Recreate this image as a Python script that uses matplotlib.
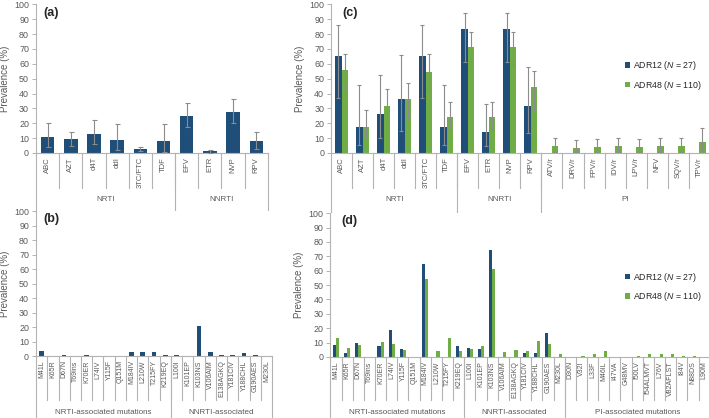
import matplotlib
matplotlib.use("Agg")
import matplotlib.pyplot as plt
import numpy as np

plt.rcParams['font.family'] = ['Liberation Sans', 'DejaVu Sans']
plt.rcParams['mathtext.fontset'] = 'custom'
plt.rcParams['mathtext.it'] = 'Liberation Sans:italic'
plt.rcParams['mathtext.rm'] = 'Liberation Sans'

# ---------- data ----------
drugs_a = ['ABC', 'AZT', 'd4T', 'ddI', '3TC/FTC', 'TDF', 'EFV', 'ETR', 'NVP', 'RPV']
groups_a = [('NRTI', 6), ('NNRTI', 4)]
vals_a = [10.5, 9.2, 12.5, 8.7, 3.0, 8.3, 25.0, 1.2, 27.3, 8.3]
lo_a = [4.3, 4.7, 6.0, 2.0, 1.6, 1.0, 17.7, 0.2, 20.0, 2.7]
hi_a = [20.4, 14.3, 22.2, 19.5, 4.3, 19.3, 33.9, 2.2, 36.1, 13.9]

drugs_c = ['ABC', 'AZT', 'd4T', 'ddI', '3TC/FTC', 'TDF', 'EFV', 'ETR', 'NVP', 'RPV',
           'ATV/r', 'DRV/r', 'FPV/r', 'IDV/r', 'LPV/r', 'NFV', 'SQV/r', 'TPV/r']
groups_c = [('NRTI', 6), ('NNRTI', 4), ('PI', 8)]
adr12_c = [65.2, 17.7, 26.2, 36.1, 65.2, 17.7, 83.4, 14.3, 83.4, 31.4, 0, 0, 0, 0, 0, 0, 0, 0]
adr12_c_lo = [37.2, 5.4, 10.3, 14.8, 37.2, 5.4, 61.2, 4.9, 61.2, 13.7]
adr12_c_hi = [86.1, 45.5, 52.7, 66.1, 86.1, 45.7, 94.4, 33.2, 94.4, 57.6]
adr48_c = [55.8, 17.7, 31.6, 36.1, 54.7, 24.4, 71.5, 24.4, 71.5, 44.2,
           4.9, 3.4, 4.0, 4.9, 4.0, 4.9, 4.9, 7.4]
adr48_c_lo = [43.9, 11.4, 23.1, 23.3, 43.0, 16.4, 59.2, 16.1, 59.2, 28.7,
              1.0, 0.5, 0.8, 1.0, 0.8, 1.0, 1.0, 2.0]
adr48_c_hi = [66.4, 28.7, 42.8, 46.9, 66.4, 34.5, 81.2, 34.5, 81.2, 55.2,
              10.0, 8.5, 9.2, 10.0, 9.2, 10.0, 10.0, 16.8]

nrti_mut = ['M41L', 'K65R', 'D67N', 'T69ins', 'K70ER', 'L74IV', 'Y115F', 'Q151M',
            'M184IV', 'L210W', 'T215FY', 'K219EQ']
nnrti_mut = ['L100I', 'K101EP', 'K103NS', 'V106AIM', 'E138AGKQ', 'Y181CIV',
             'Y188CHL', 'G190AES', 'M230L']
pi_mut = ['D30N', 'V32I', 'L33F', 'M46IL', 'I47VA', 'G48MV', 'I50LV', 'I54ALMVT',
          'L76V', 'V82AFLST', 'I84V', 'N88DS', 'L90M']

muts_b = nrti_mut + nnrti_mut
groups_b = [('NRTI-associated mutations', 12), ('NNRTI-associated', 9)]
vals_b = [3.7, 0, 0.5, 0, 0.8, 0, 0, 0, 2.8, 2.8, 2.8, 0.5,
          0.8, 0, 20.7, 2.8, 0.6, 0.5, 2.1, 0.8, 0]

muts_d = nrti_mut + nnrti_mut + pi_mut
groups_d = [('NRTI-associated mutations', 12), ('NNRTI-associated', 9), ('PI-associated mutations', 13)]
adr12_d = [8.6, 3.0, 10.0, 0, 7.5, 18.6, 5.6, 0, 65.0, 0, 0, 7.5,
           6.5, 5.6, 74.1, 0, 0, 3.0, 3.0, 17.0, 0,
           0, 0, 0, 0, 0, 0, 0, 0, 0, 0, 0, 0, 0]
adr48_d = [13.1, 6.3, 8.4, 0, 10.5, 8.9, 4.7, 0, 54.5, 4.0, 13.3, 4.2,
           5.8, 7.7, 61.5, 3.5, 4.9, 4.2, 11.0, 8.9, 1.9,
           0, 1.0, 1.9, 4.2, 0, 0, 0.9, 2.0, 2.0, 2.0, 1.0, 1.0, 0]

BLUE = '#1f4e79'
GREEN = '#70ad47'
GREY = '#595959'
LINE = '#b3b3b3'
ERR = '#8c8c8c'


# ---------- helpers ----------
def style_axis(ax, labels, groups, cat_sep, grp_sep, grp_y, label_size, tag):
    n = len(labels)
    ax.set_xlim(-0.5, n - 0.5)
    ax.set_ylim(0, 100)
    ax.set_yticks(range(0, 101, 10))
    ax.tick_params(axis='y', labelsize=6.4, colors=LINE, length=3, width=0.7, pad=2,
                   labelcolor=GREY)
    ax.set_xticks(range(n))
    ax.set_xticklabels(labels, rotation=90, fontsize=label_size, color=GREY)
    ax.tick_params(axis='x', length=0, pad=3)
    for s in ['top', 'right']:
        ax.spines[s].set_visible(False)
    ax.spines['left'].set_color(LINE)
    ax.spines['bottom'].set_color(LINE)
    ax.spines['left'].set_linewidth(0.8)
    ax.spines['bottom'].set_linewidth(0.8)
    ax.set_ylabel('Prevalence (%)', fontsize=7, color=GREY, labelpad=3)

    tr = ax.get_xaxis_transform()
    for i in range(1, n):
        ax.plot([i - 0.5, i - 0.5], [0, cat_sep], color=LINE, lw=0.8,
                transform=tr, clip_on=False)
    start = 0
    ax.plot([-0.5, -0.5], [0, grp_sep], color=LINE, lw=0.8, transform=tr, clip_on=False)
    for name, count in groups:
        end = start + count
        ax.plot([end - 0.5, end - 0.5], [0, grp_sep], color=LINE, lw=0.8,
                transform=tr, clip_on=False)
        ax.text((start + end - 1) / 2, grp_y, name, transform=tr, ha='center',
                va='center', fontsize=5.8, color=GREY)
        start = end
    ax.text(0.03, 0.985, tag, transform=ax.transAxes, fontsize=9, fontweight='bold',
            va='top', ha='left', color='#262626')


fig = plt.figure(figsize=(7.09, 4.18), dpi=100)

ax_a = fig.add_axes([0.0508, 0.634, 0.327, 0.3557])
ax_c = fig.add_axes([0.467, 0.634, 0.534, 0.3557])
ax_b = fig.add_axes([0.0508, 0.148, 0.333, 0.347])
ax_d = fig.add_axes([0.466, 0.146, 0.535, 0.344])

# (a)
x = np.arange(len(drugs_a))
va = np.array(vals_a)
ax_a.bar(x, va, width=0.58, color=BLUE, zorder=2)
ax_a.errorbar(x, va, yerr=[va - np.array(lo_a), np.array(hi_a) - va], fmt='none',
              ecolor=ERR, elinewidth=0.8, capsize=1.8, capthick=0.8, zorder=3)
style_axis(ax_a, drugs_a, groups_a, -0.235, -0.40, -0.316, 5.5, '(a)')

# (c)
x = np.arange(len(drugs_c))
w = 0.31
v12 = np.array(adr12_c)
v48 = np.array(adr48_c)
ax_c.bar(x - w / 2, v12, width=w, color=BLUE, zorder=2, label='ADR12 ($\\it{N}$ = 27)')
ax_c.bar(x + w / 2, v48, width=w, color=GREEN, zorder=2, label='ADR48 ($\\it{N}$ = 110)')
k = len(adr12_c_lo)
ax_c.errorbar(x[:k] - w / 2, v12[:k],
              yerr=[v12[:k] - np.array(adr12_c_lo), np.array(adr12_c_hi) - v12[:k]],
              fmt='none', ecolor=ERR, elinewidth=0.8, capsize=1.6, capthick=0.8, zorder=3)
ax_c.errorbar(x + w / 2, v48, yerr=[v48 - np.array(adr48_c_lo), np.array(adr48_c_hi) - v48],
              fmt='none', ecolor=ERR, elinewidth=0.8, capsize=1.6, capthick=0.8, zorder=3)
style_axis(ax_c, drugs_c, groups_c, -0.235, -0.40, -0.316, 5.5, '(c)')
ax_c.legend(loc='upper left', bbox_to_anchor=(0.755, 0.685), frameon=False, fontsize=6.3,
            handlelength=0.6, handleheight=0.6, handletextpad=0.3, labelspacing=0.75,
            labelcolor='#262626')

# (b)
x = np.arange(len(muts_b))
ax_b.bar(x, vals_b, width=0.42, color=BLUE, zorder=2)
style_axis(ax_b, muts_b, groups_b, -0.30, -0.43, -0.386, 5.0, '(b)')

# (d)
x = np.arange(len(muts_d))
w = 0.28
ax_d.bar(x - w / 2, adr12_d, width=w, color=BLUE, zorder=2, label='ADR12 ($\\it{N}$ = 27)')
ax_d.bar(x + w / 2, adr48_d, width=w, color=GREEN, zorder=2, label='ADR48 ($\\it{N}$ = 110)')
style_axis(ax_d, muts_d, groups_d, -0.30, -0.43, -0.386, 5.0, '(d)')
ax_d.legend(loc='upper left', bbox_to_anchor=(0.755, 0.655), frameon=False, fontsize=6.3,
            handlelength=0.6, handleheight=0.6, handletextpad=0.3, labelspacing=0.75,
            labelcolor='#262626')

fig.savefig('out.png', dpi=100)
